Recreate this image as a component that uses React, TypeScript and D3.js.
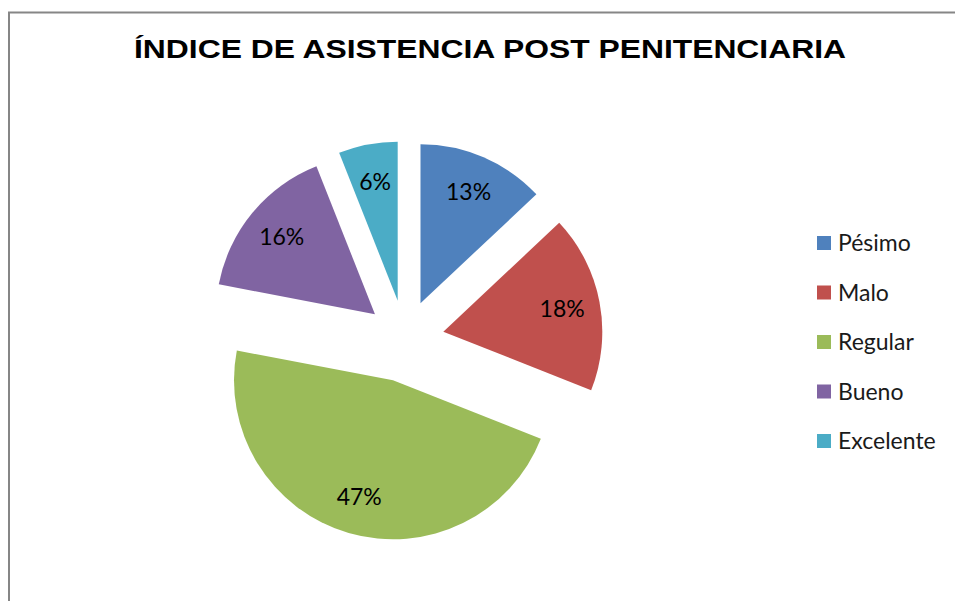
import React from "react";
import * as d3 from "d3";

const categories = ["Pésimo", "Malo", "Regular", "Bueno", "Excelente"];
const values = [13, 18, 47, 16, 6];
const labels = ["13%", "18%", "47%", "16%", "6%"];
const colors = ["#4F81BD", "#C0504D", "#9BBB59", "#8064A2", "#4BACC6"];
const explode = [39, 39, 43, 39, 39];
const title = "ÍNDICE DE ASISTENCIA POST PENITENCIARIA";

export default function App() {
  const cx = 405;
  const cy = 339;
  const r = 159;
  const pie = d3.pie<number>().sort(null).value((d) => d).startAngle(0).endAngle(2 * Math.PI);
  const arcs = pie(values);
  const arc = d3.arc<d3.PieArcDatum<number>>().innerRadius(0).outerRadius(r);
  const labelArc = d3.arc<d3.PieArcDatum<number>>().innerRadius(121).outerRadius(121);
  const legendY = d3.scalePoint<string>().domain(categories).range([243, 441]);

  return (
    <svg width={955} height={601} style={{ position: "absolute", left: 0, top: 0, background: "#fff" }}>
      <rect x={0} y={0} width={955} height={601} fill="#fff" />
      <rect x={9} y={12.5} width={1200} height={1200} fill="none" stroke="#868686" strokeWidth={2} />
      <text x={134} y={58} textLength={712} lengthAdjust="spacingAndGlyphs" fontFamily="Liberation Sans, Arial, sans-serif" fontWeight="bold" fontSize={25} fill="#000">
        {title}
      </text>
      <g transform={`translate(${cx},${cy})`}>
        {arcs.map((a, i) => {
          const mid = (a.startAngle + a.endAngle) / 2;
          const dx = explode[i] * Math.sin(mid);
          const dy = -explode[i] * Math.cos(mid);
          const [lx, ly] = labelArc.centroid(a);
          return (
            <g key={i} transform={`translate(${dx},${dy})`}>
              <path d={arc(a) || ""} fill={colors[i]} />
              <text x={lx} y={ly} dy="0.35em" textAnchor="middle" fontFamily="Lato, sans-serif" fontSize={23} fill="#000">
                {labels[i]}
              </text>
            </g>
          );
        })}
      </g>
      {categories.map((c, i) => {
        const y = legendY(c) as number;
        return (
          <g key={c}>
            <rect x={817} y={y - 7} width={14} height={14} fill={colors[i]} />
            <text x={838} y={y} dy="0.35em" fontFamily="Lato, sans-serif" fontSize={23} fill="#1a1a1a">
              {c}
            </text>
          </g>
        );
      })}
    </svg>
  );
}
